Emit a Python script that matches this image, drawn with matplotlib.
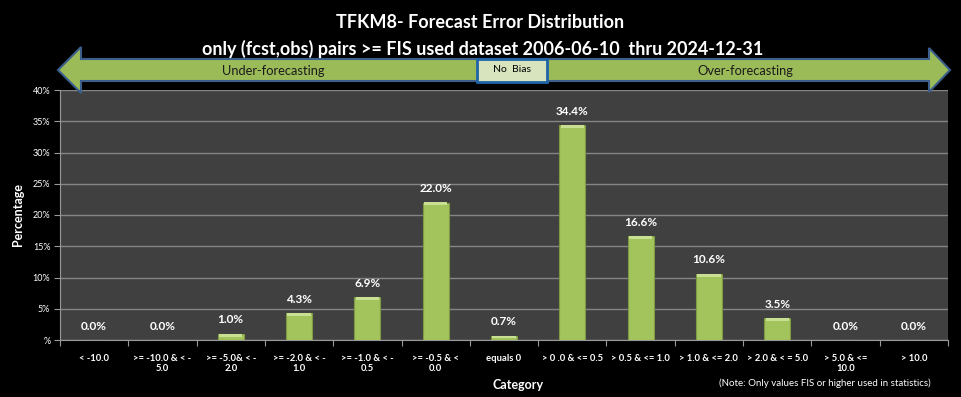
import matplotlib
matplotlib.use("Agg")
import matplotlib.pyplot as plt
from matplotlib.patches import Polygon, Rectangle
import numpy as np

plt.rcParams['font.family'] = ['Lato', 'DejaVu Sans']

categories = ["< -10.0", ">= -10.0 & < -\n5.0", ">= -5.0& < -\n2.0", ">= -2.0 & < -\n1.0",
              ">= -1.0 & < -\n0.5", ">= -0.5 & <\n0.0", "equals 0", "> 0 .0 & <= 0.5",
              "> 0.5 & <= 1.0", "> 1.0 & <= 2.0", "> 2.0 & < = 5.0", "> 5.0 & <=\n10.0", "> 10.0"]
values = [0.0, 0.0, 1.0, 4.3, 6.9, 22.0, 0.7, 34.4, 16.6, 10.6, 3.5, 0.0, 0.0]
ytick_vals = [0, 5, 10, 15, 20, 25, 30, 35, 40]
ytick_labels = ["%", "5%", "10%", "15%", "20%", "25%", "30%", "35%", "40%"]

W, H = 961, 397
fig = plt.figure(figsize=(W / 100, H / 100), dpi=100, facecolor='black')

def fx(px):
    return px / W

def fy(py):
    return 1 - py / H

ax = fig.add_axes([fx(60), fy(340), fx(948) - fx(60), fy(90) - fy(340)])
ax.set_facecolor('#404040')
x = np.arange(len(categories))
bw = 0.38
ax.bar(x, values, width=bw, color='#A3C35C', edgecolor='#7E9A44', linewidth=0.8, zorder=3)
# light top bevel of each bar
cap = [min(v, 0.45) for v in values]
ax.bar(x, cap, bottom=[v - c for v, c in zip(values, cap)], width=bw * 0.9,
       color='#C9DF92', linewidth=0, zorder=4)
for xi, v in zip(x, values):
    ax.annotate(f"{v:.1f}%", (xi, v), xytext=(0, 6), textcoords='offset points',
                ha='center', va='bottom', color='white', fontsize=8.5, fontweight='bold')

ax.set_xlim(-0.5, len(categories) - 0.5)
ax.set_ylim(0, 40)
ax.set_yticks(ytick_vals)
ax.set_yticklabels(ytick_labels, color='white', fontsize=6.5)
ax.yaxis.grid(True, color='#858585', linewidth=1, zorder=0)
ax.set_xticks(np.arange(-0.5, len(categories), 1.0))
ax.set_xticklabels([])
ax.set_xticks(x, minor=True)
ax.set_xticklabels(categories, minor=True, color='white', fontsize=6.8, fontweight='bold')
ax.tick_params(axis='x', which='minor', length=0, pad=10)
ax.tick_params(axis='x', which='major', length=4, color='#999999')
ax.tick_params(axis='y', length=4, color='#999999', pad=3)
for s in ['top', 'right']:
    ax.spines[s].set_visible(False)
for s in ['left', 'bottom']:
    ax.spines[s].set_color('#999999')

fig.text(fx(18), fy(215), "Percentage", rotation=90, ha='center', va='center',
         color='white', fontsize=9, fontweight='bold')
fig.text(fx(518), fy(385), "Category", ha='center', va='center',
         color='white', fontsize=9, fontweight='bold')
fig.text(fx(825), fy(383), "(Note: Only values FIS or higher used in statistics)", ha='center', va='center',
         color='white', fontsize=7)

fig.text(0.5, fy(22), "TFKM8- Forecast Error Distribution", ha='center', va='center',
         color='white', fontsize=13, fontweight='bold')
fig.text(fx(483), fy(49), "only (fcst,obs) pairs >= FIS used dataset 2006-06-10  thru 2024-12-31", ha='center', va='center',
         color='white', fontsize=13, fontweight='bold')

pts = [(58, 70), (81, 47), (81, 59), (929, 59), (929, 48), (950, 70), (929, 92), (929, 81), (81, 81), (81, 93)]
arrow = Polygon([(fx(a), fy(b)) for a, b in pts], closed=True, transform=fig.transFigure,
                facecolor='#9BBB59', edgecolor='#3B5E8C', linewidth=1.5, zorder=5)
fig.add_artist(arrow)
box = Rectangle((fx(477), fy(82)), fx(547) - fx(477), fy(59) - fy(82), transform=fig.transFigure,
                facecolor='#D7E4BD', edgecolor='#1F64A8', linewidth=2, zorder=6)
fig.add_artist(box)
fig.text(fx(512), fy(70), "No  Bias", ha='center', va='center', color='black', fontsize=7.5, zorder=7)
fig.text(fx(273), fy(71), "Under-forecasting", ha='center', va='center', color='#1a1a1a', fontsize=9.3, zorder=7)
fig.text(fx(745), fy(71), "Over-forecasting", ha='center', va='center', color='#1a1a1a', fontsize=9.3, zorder=7)

fig.savefig("out.png", dpi=100, facecolor='black')
